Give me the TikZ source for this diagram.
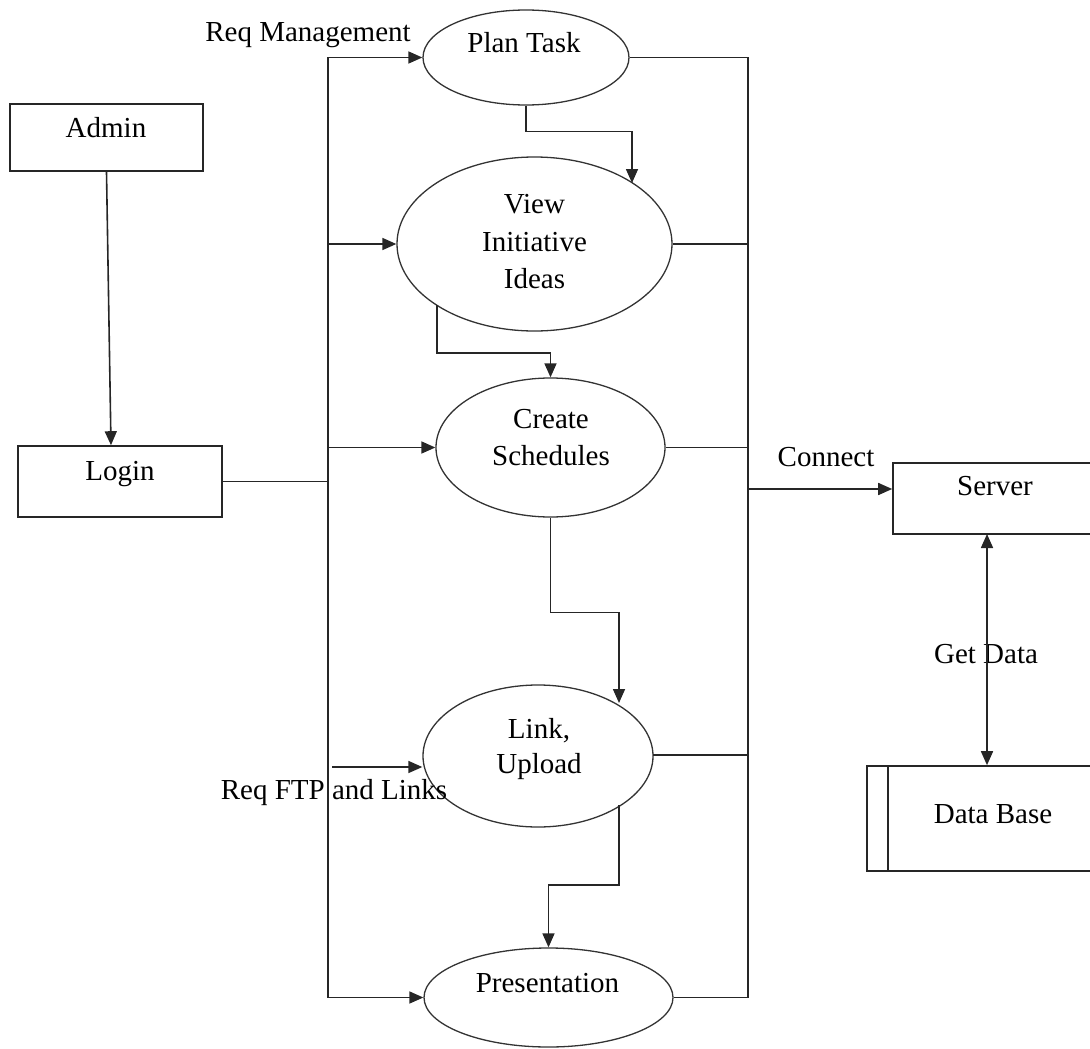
\documentclass[tikz,border=0pt]{standalone}
\usepackage{fontspec}
\setmainfont{Liberation Serif}
\usetikzlibrary{arrows.meta,shapes.geometric}
\begin{document}
\begin{tikzpicture}[x=1pt,y=-1pt,
  line/.style={line width=1.6pt, draw=black!85},
  arr/.style={line, -{Triangle[length=14pt,width=12pt]}},
  darr/.style={line, {Triangle[length=14pt,width=12pt]}-{Triangle[length=14pt,width=12pt]}},
  proc/.style={ellipse, draw=black!80, line width=1.3pt, inner sep=0pt},
  box/.style={rectangle, draw=black!85, line width=1.6pt, inner sep=0pt},
  lbl/.style={font=\fontsize{29}{37}\selectfont, inner sep=0pt, anchor=base},
]
\useasboundingbox (0,0) rectangle (1090,1049);

% boxes
\node[box, minimum width=193pt, minimum height=67pt] (admin) at (106.5,137.5) {};
\node[box, minimum width=204pt, minimum height=71pt] (login) at (120,481.5) {};
\node[box, minimum width=200pt, minimum height=71pt] (server) at (993,498.5) {};
\node[box, minimum width=226pt, minimum height=105pt] (db) at (980,818.5) {};
\draw[line] ([xshift=22pt]db.north west) -- ([xshift=22pt]db.south west);

% processes
\node[proc, minimum width=206pt, minimum height=95pt] (plan) at (526,57.5) {};
\node[proc, minimum width=275pt, minimum height=174pt] (view) at (534.5,244) {};
\node[proc, minimum width=229pt, minimum height=139pt] (create) at (550.5,447.5) {};
\node[proc, minimum width=230pt, minimum height=142pt] (link) at (538,756) {};
\node[proc, minimum width=249pt, minimum height=99pt] (pres) at (548.5,997.5) {};

% texts
\node[lbl] (tadmin) at (106,137) {Admin};
\node[lbl] (tlogin) at (120,480) {Login};
\node[lbl] (tplan) at (524,53) {Plan Task};
\node[lbl] (tview1) at (534.5,213) {View};
\node[lbl] (tview2) at (534.5,251) {Initiative};
\node[lbl] (tview3) at (534.5,288) {Ideas};
\node[lbl] (tcreate1) at (551,428) {Create};
\node[lbl] (tcreate2) at (551,465) {Schedules};
\node[lbl] (tlink1) at (539,738) {Link,};
\node[lbl] (tlink2) at (539,773) {Upload};
\node[lbl] (tpres) at (547.5,992) {Presentation};
\node[lbl] (tserver) at (995,495) {Server};
\node[lbl] (tdb) at (993,823) {Data Base};
\node[lbl] (treqm) at (308,42) {Req Management};
\node[lbl] (treqf) at (334,799) {Req FTP and Links};
\node[lbl] (tconn) at (826,466) {Connect};
\node[lbl] (tget) at (986,663) {Get Data};

% buses
\coordinate (Lt) at (328,57.5);
\coordinate (Lb) at (328,997.5);
\coordinate (Rt) at (748,57.5);
\coordinate (Rb) at (748,997.5);
\draw[line] (Lt) -- (Lb);
\draw[line] (Rt) -- (Rb);

% left feeds
\coordinate (L2) at (328,244);
\coordinate (L3) at (328,447.5);
\coordinate (L4) at (332,767);
\draw[arr] (Lt) -- (plan.west);
\draw[arr] (L2) -- (view.west);
\draw[arr] (L3) -- (create.west);
\draw[arr] (L4) -- (L4 -| link.west);
\draw[arr] (Lb) -- (pres.west);
\draw[line] (login.east) -- (login.east -| Lt);
\draw[arr] (admin.south) -- ([xshift=-9pt]login.north);

% right outputs
\draw[line] (plan.east) -- (plan.east -| Rt);
\draw[line] (view.east) -- (view.east -| Rt);
\draw[line] (create.east) -- (create.east -| Rt);
\coordinate (lr) at (653,755);
\draw[line] (lr) -- (lr -| Rt);
\draw[line] (pres.east) -- (pres.east -| Rt);

% server / db
\coordinate (Rc) at (748,489);
\draw[arr] (Rc) -- (Rc -| server.west);
\coordinate (sd) at (987,534);
\draw[darr] (sd) -- (sd |- db.north);

% process flow
\coordinate (pv) at (632,183);
\draw[arr] (plan.south) -- ++(0,26) -| (pv);
\coordinate (vc) at (437,305);
\draw[arr] (vc) -- (437,353) -| (create.north);
\coordinate (cl) at (619,703);
\draw[arr] (create.south) -- ++(0,95) -| (cl);
\coordinate (lp) at (619,805);
\draw[arr] (lp) -- (619,885) -| (pres.north);
\end{tikzpicture}
\end{document}
